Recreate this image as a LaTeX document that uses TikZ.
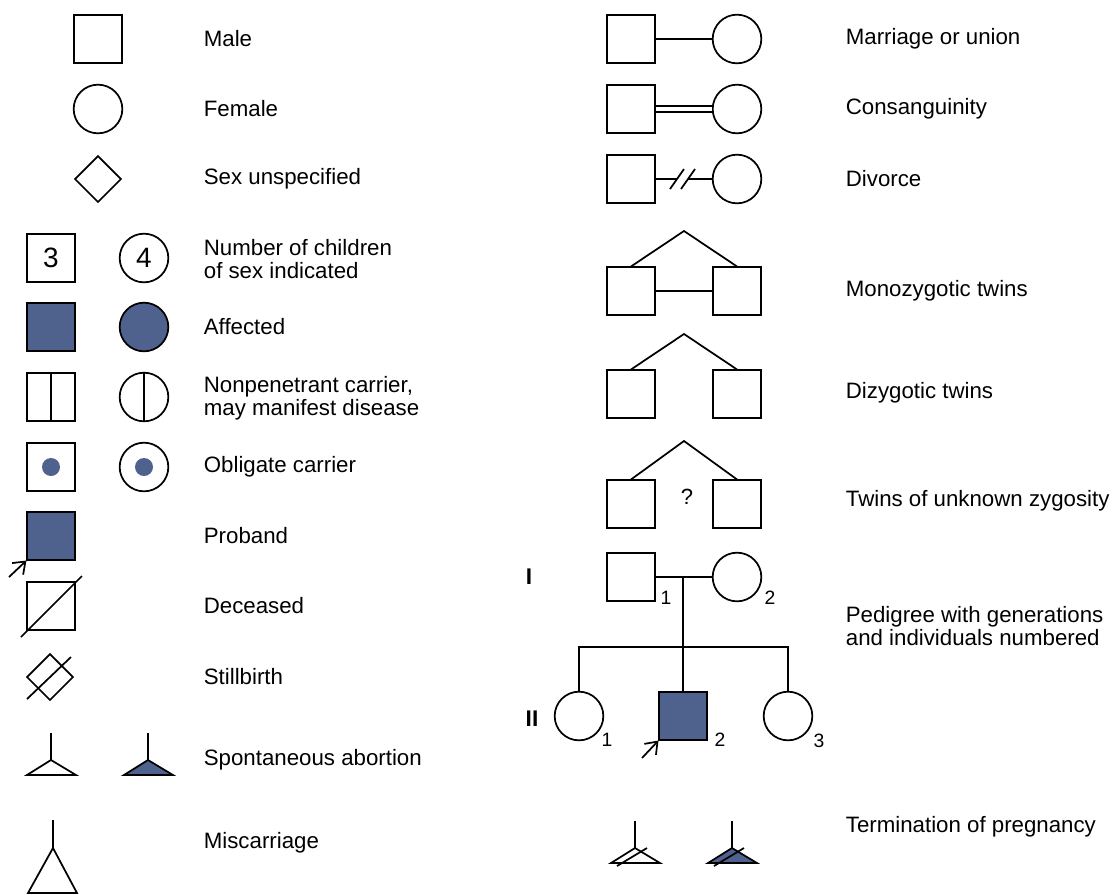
\documentclass[tikz,border=0pt]{standalone}
\usepackage{fontspec}
\setmainfont{Liberation Sans}
\usetikzlibrary{shapes.geometric,arrows.meta}
\definecolor{aff}{RGB}{79,97,141}
\begin{document}
\begin{tikzpicture}[x=0.75pt,y=-0.75pt,
  every path/.style={line width=1.3pt},
  sq/.style={draw,rectangle,minimum size=35.5pt,inner sep=0pt,line width=1.3pt},
  ci/.style={draw,circle,minimum size=36.5pt,inner sep=0pt,line width=1.3pt},
  dia/.style={draw,diamond,minimum width=35pt,minimum height=35pt,inner sep=0pt,line width=1.3pt},
  affd/.style={fill=aff},
  dot/.style={circle,fill=aff,minimum size=13.5pt,inner sep=0pt},
  lbl/.style={anchor=west,align=left,inner sep=0pt,font=\fontsize{16.7}{17}\selectfont},
  num/.style={inner sep=0pt,font=\fontsize{14.5}{15}\selectfont},
  gen/.style={inner sep=0pt,font=\fontsize{17}{17}\selectfont\bfseries},
  big/.style={font=\fontsize{21}{21}\selectfont},
  parrow/.style={-{Straight Barb[length=8pt,width=12pt]},line width=1.3pt}
]
\useasboundingbox (0,0) rectangle (1116,894);

% ---------------- left column ----------------
\node[sq] (male) at (98,39) {};
\node[ci] (female) at (98,109) {};
\node[dia] (unsp) at (98,179) {};

\node[sq,big] (n3) at (51,258) {3};
\node[ci,big] (n4) at (144,258) {4};

\node[sq,affd] (afm) at (51,327) {};
\node[ci,affd] (aff) at (144,327) {};

\node[sq] (npm) at (51,397) {};
\draw (npm.north) -- (npm.south);
\node[ci] (npf) at (144,397) {};
\draw (npf.north) -- (npf.south);

\node[sq] (obm) at (51,467) {};
\node[dot] (obmd) at (obm.center) {};
\node[ci] (obf) at (144,467) {};
\node[dot] (obfd) at (obf.center) {};

\node[sq,affd] (prob) at (51,536) {};
\coordinate (probt) at (9,577);
\draw[parrow] (probt) -- (prob.south west);

\node[sq] (dec) at (51,606) {};
\draw ([shift={(-30,31)}]dec.center) -- ([shift={(31,-30)}]dec.center);

\node[dia] (still) at (50,677) {};
\draw ([shift={(-23,22)}]still.center) -- ([shift={(21,-20)}]still.center);

% spontaneous abortion
\draw (51,733) -- (51,760);
\draw (51,760) -- (27,775) -- (76,775) -- cycle;
\draw (148,733) -- (148,760);
\draw[fill=aff] (148,760) -- (124,775) -- (173,775) -- cycle;

% miscarriage
\draw (53,820) -- (53,848);
\draw (53,848) -- (28,893) -- (77,893) -- cycle;

% left labels
\node[lbl] at (203,39) {Male};
\node[lbl] at (203,109) {Female};
\node[lbl] at (203,179) {Sex unspecified};
\node[lbl] at (203,259) {Number of children\\of sex indicated};
\node[lbl] at (203,327) {Affected};
\node[lbl] at (203,398) {Nonpenetrant carrier,\\may manifest disease};
\node[lbl] at (203,467) {Obligate carrier};
\node[lbl] at (203,536) {Proband};
\node[lbl] at (203,606) {Deceased};
\node[lbl] at (203,677) {Stillbirth};
\node[lbl] at (203,760) {Spontaneous abortion};
\node[lbl] at (203,843) {Miscarriage};

% ---------------- right column ----------------
\node[sq] (mu1) at (631,39) {};
\node[ci] (mu2) at (737,39) {};
\draw (mu1) -- (mu2);

\node[sq] (cs1) at (631,109) {};
\node[ci] (cs2) at (737,109) {};
\draw[double,double distance=3.5pt,line width=1.2pt] (cs1) -- (cs2);

\node[sq] (dv1) at (631,179) {};
\node[ci] (dv2) at (737,179) {};
\coordinate (dva) at (677,179);
\coordinate (dvb) at (688,179);
\draw (dv1) -- (dva);
\draw (dvb) -- (dv2);
\draw (670,189) -- (684,169);
\draw (681,189) -- (695,169);

% monozygotic
\node[sq] (mz1) at (631,291) {};
\node[sq] (mz2) at (737,291) {};
\coordinate (mzt) at (684,231);
\draw (mz1.north) -- (mzt) -- (mz2.north);
\draw (mz1) -- (mz2);

% dizygotic
\node[sq] (dz1) at (631,394) {};
\node[sq] (dz2) at (737,394) {};
\coordinate (dzt) at (684,334);
\draw (dz1.north) -- (dzt) -- (dz2.north);

% unknown
\node[sq] (uz1) at (631,504) {};
\node[sq] (uz2) at (737,504) {};
\coordinate (uzt) at (684,441);
\draw (uz1.north) -- (uzt) -- (uz2.north);
\node[inner sep=0pt,font=\fontsize{16.5}{16}\selectfont] (q) at (687,497) {?};

% pedigree
\node[gen] (g1) at (529,577) {I};
\node[gen] (g2) at (532,719) {II};
\node[sq] (p1) at (631,577) {};
\node[ci] (p2) at (737,577) {};
\draw (p1) -- (p2);
\coordinate (pm) at (683,577);
\coordinate (ps) at (683,647);
\draw (pm) -- (ps);
\node[ci] (c1) at (579,716) {};
\node[sq,affd] (c2) at (683,716) {};
\node[ci] (c3) at (788,716) {};
\draw (c1.north) -- (c1.north |- ps) -- (c3.north |- ps) -- (c3.north);
\draw (ps) -- (c2.north);
\coordinate (c2t) at (642,758);
\draw[parrow] (c2t) -- (c2.south west);
\node[num] at (666,598) {1};
\node[num] at (770,598) {2};
\node[num] at (607,740) {1};
\node[num] at (720,740) {2};
\node[num] at (819,741) {3};

% termination of pregnancy
\draw (635,821) -- (635,848);
\draw (635,848) -- (611,863) -- (660,863) -- cycle;
\draw (647,848) -- (617,866);
\draw (732,821) -- (732,848);
\draw[fill=aff] (732,848) -- (708,863) -- (757,863) -- cycle;
\draw (744,848) -- (714,866);

% right labels
\node[lbl] at (845,39) {Marriage or union};
\node[lbl] at (845,109) {Consanguinity};
\node[lbl] at (845,179) {Divorce};
\node[lbl] at (845,291) {Monozygotic twins};
\node[lbl] at (845,393) {Dizygotic twins};
\node[lbl] at (845,501) {Twins of unknown zygosity};
\node[lbl] at (845,626) {Pedigree with generations\\and individuals numbered};
\node[lbl] at (845,827) {Termination of pregnancy};
\end{tikzpicture}
\end{document}
